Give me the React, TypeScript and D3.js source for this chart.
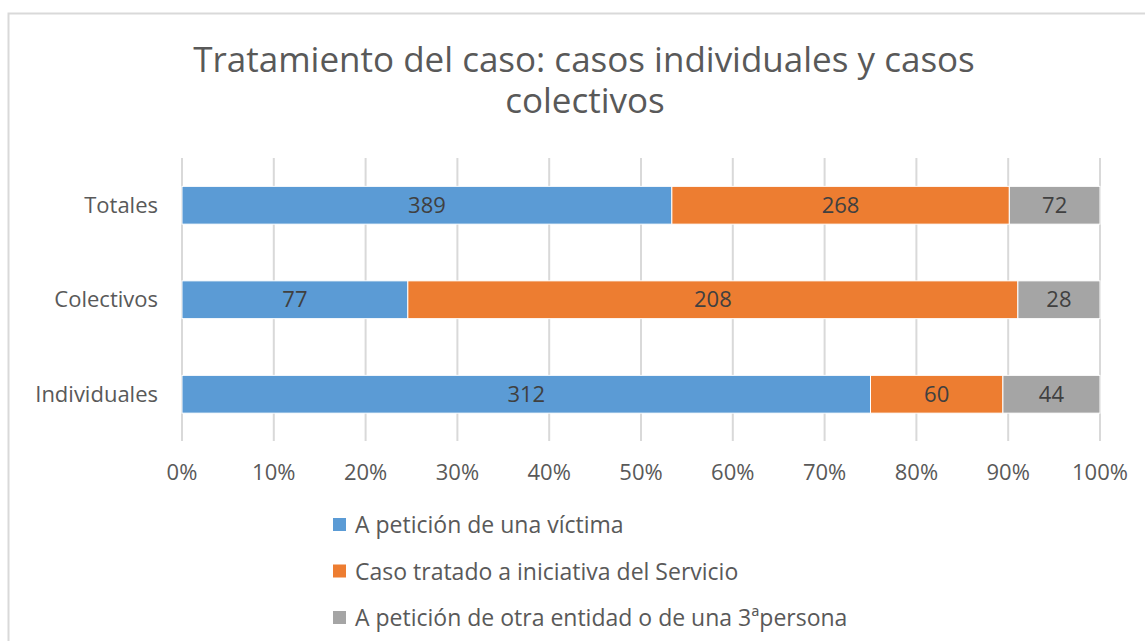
import React, { useEffect, useRef } from 'react';
import * as d3 from 'd3';

const CATEGORIES = ['Totales', 'Colectivos', 'Individuales'];
const SERIES = [
  'A petición de una víctima',
  'Caso tratado a iniciativa del Servicio',
  'A petición de otra entidad o de una 3ªpersona',
];
const VICTIMA = [389, 77, 312];
const SERVICIO = [268, 208, 60];
const OTRA = [72, 28, 44];
const TICKS = [0, 0.1, 0.2, 0.3, 0.4, 0.5, 0.6, 0.7, 0.8, 0.9, 1];
const COLORS = ['#5B9BD5', '#ED7D31', '#A5A5A5'];

const WIDTH = 1145;
const HEIGHT = 641;
const FONT = '"Open Sans", "DejaVu Sans", sans-serif';

const App = () => {
  const ref = useRef<SVGSVGElement>(null);

  useEffect(() => {
    const svg = d3.select(ref.current);
    svg.selectAll('*').remove();

    // outer chart border
    svg.append('rect')
      .attr('x', 8.5).attr('y', 13.5)
      .attr('width', 1160).attr('height', 640)
      .attr('fill', '#fff').attr('stroke', '#d9d9d9').attr('stroke-width', 2);

    // title
    const title = svg.append('text')
      .attr('text-anchor', 'middle')
      .attr('fill', '#595959')
      .style('font-family', FONT)
      .style('font-size', '35px');
    title.append('tspan').attr('x', 584).attr('y', 72).text('Tratamiento del caso: casos individuales y casos');
    title.append('tspan').attr('x', 585).attr('y', 113).text('colectivos');

    const x = d3.scaleLinear().domain([0, 1]).range([182, 1100]);
    const y = d3.scaleBand().domain(CATEGORIES).range([158, 441.5]).paddingInner(0.6).paddingOuter(0.3);

    const rows = CATEGORIES.map((c, i) => ({ cat: c, v0: VICTIMA[i], v1: SERVICIO[i], v2: OTRA[i] }));
    const stack = d3.stack<any>()
      .keys(['v0', 'v1', 'v2'])
      .offset(d3.stackOffsetExpand);
    const layers = stack(rows);

    // gridlines
    svg.append('g').selectAll('line')
      .data(TICKS)
      .enter()
      .append('line')
      .attr('x1', d => x(d)).attr('x2', d => x(d))
      .attr('y1', 158).attr('y2', 441)
      .attr('stroke', '#d9d9d9').attr('stroke-width', 2);

    // bars
    layers.forEach((layer, li) => {
      const g = svg.append('g');
      g.selectAll('rect')
        .data(layer)
        .enter()
        .append('rect')
        .attr('x', d => x(d[0]))
        .attr('y', d => y(d.data.cat)!)
        .attr('width', d => x(d[1]) - x(d[0]))
        .attr('height', y.bandwidth())
        .attr('fill', COLORS[li])
        .attr('stroke', '#fff')
        .attr('stroke-width', 1);

      g.selectAll('text')
        .data(layer)
        .enter()
        .append('text')
        .text(d => d.data[layer.key])
        .attr('x', d => (x(d[0]) + x(d[1])) / 2)
        .attr('y', d => y(d.data.cat)! + y.bandwidth() / 2)
        .attr('dy', '0.35em')
        .attr('text-anchor', 'middle')
        .attr('fill', '#404040')
        .style('font-family', FONT)
        .style('font-size', '22px');
    });

    // category labels
    svg.append('g').selectAll('text')
      .data(CATEGORIES)
      .enter()
      .append('text')
      .text(d => d)
      .attr('x', 158)
      .attr('y', d => y(d)! + y.bandwidth() / 2)
      .attr('dy', '0.35em')
      .attr('text-anchor', 'end')
      .attr('fill', '#595959')
      .style('font-family', FONT)
      .style('font-size', '22px');

    // x tick labels
    svg.append('g').selectAll('text')
      .data(TICKS)
      .enter()
      .append('text')
      .text(d => d3.format('.0%')(d))
      .attr('x', d => x(d))
      .attr('y', 472)
      .attr('dy', '0.35em')
      .attr('text-anchor', 'middle')
      .attr('fill', '#595959')
      .style('font-family', FONT)
      .style('font-size', '22px');

    // legend
    const legend = svg.append('g').selectAll('g')
      .data(SERIES)
      .enter()
      .append('g')
      .attr('transform', (d, i) => `translate(333, ${525 + i * 46.5})`);
    legend.append('rect')
      .attr('x', 0).attr('y', -7)
      .attr('width', 13).attr('height', 13)
      .attr('fill', (d, i) => COLORS[i]);
    legend.append('text')
      .text(d => d)
      .attr('x', 22)
      .attr('y', 0)
      .attr('dy', '0.35em')
      .attr('fill', '#595959')
      .style('font-family', FONT)
      .style('font-size', '23px');
  }, []);

  return (
    <svg ref={ref} width={WIDTH} height={HEIGHT}
      style={{ position: 'absolute', left: 0, top: 0, background: '#fff' }} />
  );
};

export default App;
